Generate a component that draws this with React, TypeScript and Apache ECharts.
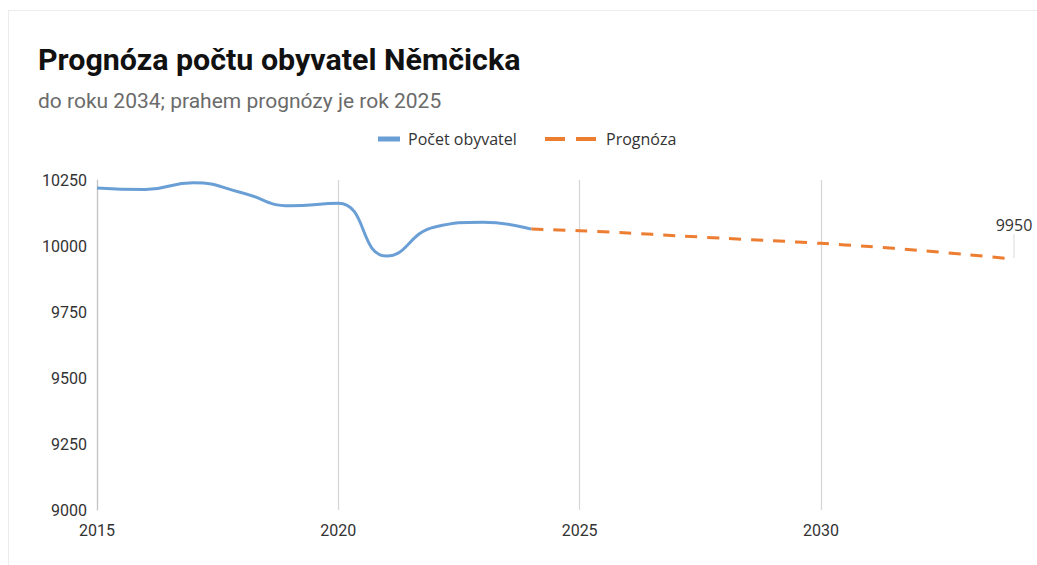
import React, { useEffect, useRef } from "react";
import * as echarts from "echarts";

const historyYears = [2015, 2016, 2017, 2018, 2019, 2020, 2021, 2022, 2023, 2024];
const historyValues = [10220, 10214, 10240, 10202, 10152, 10162, 9962, 10072, 10090, 10064];
const forecastYears = [2024, 2025, 2026, 2027, 2028, 2029, 2030, 2031, 2032, 2033, 2034];
const forecastValues = [10064, 10058, 10049, 10039, 10029, 10020, 10010, 9998, 9984, 9968, 9950];
const yTicks = { min: 9000, max: 10250, step: 250 };
const xTicks = { min: 2015, max: 2034, step: 5 };
const titleText = "Prognóza počtu obyvatel Němčicka";
const subtitleText = "do roku 2034; prahem prognózy je rok 2025";
const seriesNames = ["Počet obyvatel", "Prognóza"];

export default function App() {
  const ref = useRef<HTMLDivElement>(null);
  useEffect(() => {
    if (!ref.current) return;
    const chart = echarts.init(ref.current, undefined, { renderer: "svg" });
    const hist = historyYears.map((y, i) => [y, historyValues[i]]);
    const fc = forecastYears.map((y, i) => [y, forecastValues[i]]);
    const lastIdx = fc.length - 1;
    chart.setOption({
      animation: false,
      title: [
        {
          text: titleText,
          left: 33,
          top: 39,
          textStyle: { fontFamily: "Roboto", fontWeight: "bold", fontSize: 30.4, color: "#111111" },
        },
        {
          text: subtitleText,
          left: 33,
          top: 85,
          textStyle: { fontFamily: "Roboto", fontWeight: "normal", fontSize: 21, color: "#6b6b6b" },
        },
      ],
      legend: [
        {
          data: [seriesNames[0]],
          left: 373,
          top: 126,
          itemWidth: 22,
          itemHeight: 5,
          icon: "rect",
          textStyle: { fontFamily: "Open Sans", fontSize: 16, color: "#333333", padding: [0, 0, 0, 3] },
        },
        {
          data: [seriesNames[1]],
          left: 540,
          top: 126,
          itemWidth: 51,
          itemHeight: 5,
          icon: "path://M0,0H20V4H0Z M31,0H51V4H31Z",
          textStyle: { fontFamily: "Open Sans", fontSize: 16, color: "#333333", padding: [0, 0, 0, 5] },
        },
      ],
      grid: { left: 97, right: 23, top: 180, bottom: 55, containLabel: false },
      xAxis: {
        type: "value",
        min: xTicks.min,
        max: xTicks.max,
        interval: xTicks.step,
        axisLine: { show: false },
        axisTick: { show: false },
        axisLabel: {
          show: true,
          margin: 12,
          fontFamily: "Roboto",
          fontSize: 16,
          color: "#333333",
          showMaxLabel: false,
          formatter: (v: number) => ((v - xTicks.min) % xTicks.step === 0 ? String(v) : ""),
        },
        splitLine: { show: true, showMaxLine: false, lineStyle: { color: "#d6d6d6", width: 1.2 } },
      },
      yAxis: {
        type: "value",
        min: yTicks.min,
        max: yTicks.max,
        interval: yTicks.step,
        axisLine: { show: true, lineStyle: { color: "#c4c4c4", width: 1.2 } },
        axisTick: { show: false },
        splitLine: { show: false },
        axisLabel: {
          margin: 10,
          fontFamily: "Roboto",
          fontSize: 16,
          color: "#333333",
          formatter: (v: number) => String(v),
        },
      },
      series: [
        {
          name: seriesNames[0],
          type: "line",
          data: hist,
          smooth: 0.5,
          showSymbol: false,
          symbol: "none",
          itemStyle: { color: "#6a9fd6" },
          lineStyle: { color: "#6a9fd6", width: 3 },
          z: 2,
        },
        {
          name: seriesNames[1],
          type: "line",
          data: fc.map((d, i) =>
            i === lastIdx
              ? { value: d, label: { show: true } }
              : { value: d, label: { show: false } }
          ),
          smooth: 0.3,
          showSymbol: true,
          symbol: "circle",
          symbolSize: 0,
          itemStyle: { color: "#ed7d31" },
          lineStyle: { color: "#ed7d31", width: 3, type: [12, 10] },
          label: {
            show: false,
            position: "top",
            distance: 1,
            align: "center",
            formatter: (p: any) => `{v|${p.value[1]}}\n{l|}`,
            rich: {
              v: { fontFamily: "Open Sans", fontSize: 16, color: "#333333", lineHeight: 18, align: "center" },
              l: { width: 1, height: 24, backgroundColor: "#dadada", align: "center" },
            },
          },
          z: 3,
        },
      ],
    });
    return () => chart.dispose();
  }, []);
  return (
    <div style={{ position: "fixed", left: 0, top: 0, width: 1037, height: 565, background: "#ffffff" }}>
      <div
        style={{
          position: "absolute",
          left: 8,
          top: 10,
          right: 0,
          bottom: 0,
          borderTop: "1px solid #ececec",
          borderLeft: "1px solid #ececec",
        }}
      />
      <div ref={ref} style={{ position: "absolute", left: 0, top: 0, width: 1037, height: 565 }} />
    </div>
  );
}
